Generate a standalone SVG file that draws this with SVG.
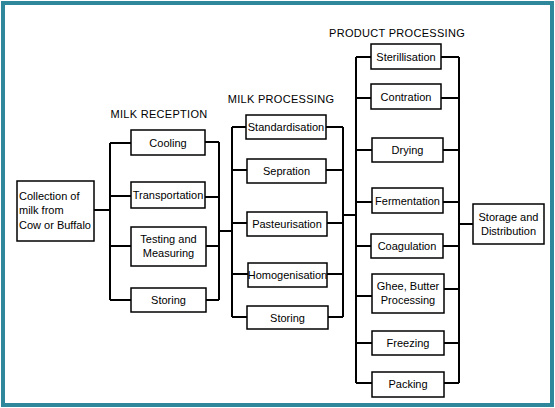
<svg xmlns="http://www.w3.org/2000/svg" width="555" height="408" viewBox="0 0 555 408">
<style>
.box{fill:#fff;stroke:#000;stroke-width:1.5}
.t{font-family:"Liberation Sans",Arial,sans-serif;font-size:11px;fill:#000;text-anchor:middle}
.tl{font-family:"Liberation Sans",Arial,sans-serif;font-size:11px;fill:#000}
.h{font-family:"Liberation Sans",Arial,sans-serif;font-size:11px;fill:#000;text-anchor:middle;letter-spacing:0.3px}
.c{fill:none;stroke:#000;stroke-width:2}
</style>
<rect width="555" height="408" fill="#fff"/>
<rect x="5" y="5" width="549" height="402" fill="#9aa9ad"/>
<rect x="3" y="3" width="549" height="402" fill="#fff" stroke="#2e879b" stroke-width="4"/>

<g id="headings">
<text class="h" x="159" y="118">MILK RECEPTION</text>
<text class="h" x="281" y="103">MILK PROCESSING</text>
<text class="h" x="397" y="37">PRODUCT PROCESSING</text>
</g>

<g id="connectors">
<path class="c" d="M94 210H110M110 143V300M110 143H131M110 196H131M110 246H131M110 300H131"/>
<path class="c" d="M205 142H219M205 197H219M206 246H219M206 300H219M219 142V300M219 231H232"/>
<path class="c" d="M232 127V317M232 127H246M232 170H247M232 223H247M232 274H248M232 317H247"/>
<path class="c" d="M326 127H343M326 170H343M327 223H343M327 274H343M328 317H343M343 127V317M343 215H356"/>
<path class="c" d="M356 57V383M356 57H371M356 98H371M356 150H372M356 202H372M356 246H371M356 296H372M356 343H372M356 383H372"/>
<path class="c" d="M441 57H459M441 98H459M443 150H459M443 202H459M443 246H459M444 289H459M444 343H459M444 383H459M459 57V383M459 224H473"/>
</g>

<g id="collection"><rect class="box" x="17" y="181" width="77" height="60"/>
<text class="tl" x="19" y="200">Collection of</text><text class="tl" x="19" y="214">milk from</text><text class="tl" x="19" y="229">Cow or Buffalo</text></g>

<g id="cooling"><rect class="box" x="131" y="130" width="74" height="25"/><text class="t" x="168" y="147">Cooling</text></g>
<g id="transportation"><rect class="box" x="131" y="182" width="74" height="26"/><text class="t" x="168" y="199">Transportation</text></g>
<g id="testing"><rect class="box" x="131" y="227" width="75" height="39"/><text class="t" x="168.5" y="243">Testing and</text><text class="t" x="168.5" y="257">Measuring</text></g>
<g id="storing1"><rect class="box" x="131" y="288" width="75" height="24"/><text class="t" x="168.5" y="304">Storing</text></g>

<g id="standardisation"><rect class="box" x="246" y="115" width="80" height="24"/><text class="t" x="286" y="131">Standardisation</text></g>
<g id="sepration"><rect class="box" x="247" y="159" width="79" height="24"/><text class="t" x="286.5" y="175">Sepration</text></g>
<g id="pasteurisation"><rect class="box" x="247" y="212" width="80" height="24"/><text class="t" x="287" y="228">Pasteurisation</text></g>
<g id="homogenisation"><rect class="box" x="248" y="263" width="79" height="24"/><text class="t" x="287.5" y="279">Homogenisation</text></g>
<g id="storing2"><rect class="box" x="247" y="306" width="81" height="23"/><text class="t" x="287.5" y="322">Storing</text></g>

<g id="sterillisation"><rect class="box" x="371" y="44" width="70" height="25"/><text class="t" x="406" y="61">Sterillisation</text></g>
<g id="contration"><rect class="box" x="371" y="84" width="70" height="25"/><text class="t" x="406" y="101">Contration</text></g>
<g id="drying"><rect class="box" x="372" y="138" width="71" height="24"/><text class="t" x="407.5" y="154">Drying</text></g>
<g id="fermentation"><rect class="box" x="372" y="188" width="71" height="25"/><text class="t" x="407.5" y="205">Fermentation</text></g>
<g id="coagulation"><rect class="box" x="371" y="234" width="72" height="24"/><text class="t" x="407" y="250">Coagulation</text></g>
<g id="ghee"><rect class="box" x="372" y="274" width="72" height="39"/><text class="t" x="408" y="290">Ghee, Butter</text><text class="t" x="408" y="304">Processing</text></g>
<g id="freezing"><rect class="box" x="372" y="331" width="72" height="24"/><text class="t" x="408" y="347">Freezing</text></g>
<g id="packing"><rect class="box" x="372" y="372" width="72" height="25"/><text class="t" x="408" y="388">Packing</text></g>

<g id="storage"><rect class="box" x="473" y="204" width="71" height="40"/><text class="t" x="508.5" y="221">Storage and</text><text class="t" x="508.5" y="235">Distribution</text></g>
</svg>
